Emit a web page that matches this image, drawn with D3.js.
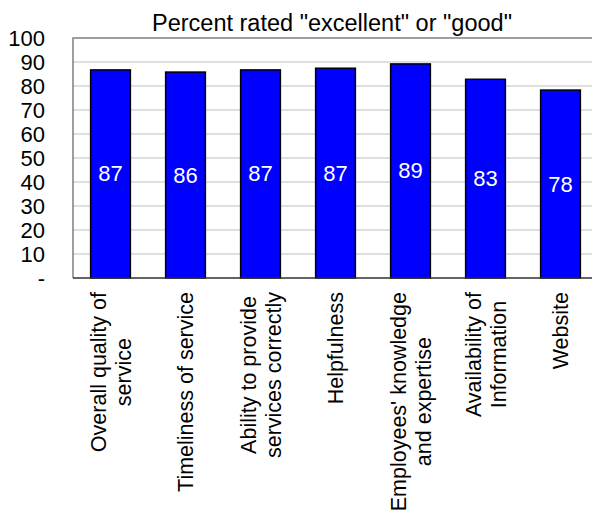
<!DOCTYPE html>
<html>
<head>
<meta charset="utf-8">
<script src="https://cdn.jsdelivr.net/npm/d3@7"></script>
<style>
    body { margin: 0; background: white; }
    text { font-family: "Liberation Sans", Arial, sans-serif; fill: black; }
</style>
</head>
<body>
<div id="chart"></div>
<script>
const categories = [
    ['Overall quality of', 'service'],
    ['Timeliness of service'],
    ['Ability to provide', 'services correctly'],
    ['Helpfulness'],
    ["Employees' knowledge", 'and expertise'],
    ['Availability of', 'Information'],
    ['Website']
];
const values = [86.7, 85.8, 86.7, 87.4, 89.2, 82.8, 78.3];
const tickValues = [0, 10, 20, 30, 40, 50, 60, 70, 80, 90, 100];
const title = 'Percent rated "excellent" or "good"';

const width = 592;
const height = 512;
const margin = { top: 38, left: 73, bottom: 278 };
const plotRight = 598;

const svg = d3.select('#chart')
    .append('svg')
    .attr('width', width)
    .attr('height', height);

const x = d3.scaleBand()
    .domain(d3.range(values.length))
    .range([margin.left, plotRight])
    .paddingInner(0.47)
    .paddingOuter(0.235);

const y = d3.scaleLinear()
    .domain([0, 100])
    .range([margin.bottom, margin.top]);

// gridlines
svg.selectAll('.grid')
    .data(tickValues.filter(d => d > 0 && d < 100))
    .join('line')
    .attr('x1', margin.left)
    .attr('x2', plotRight)
    .attr('y1', d => y(d))
    .attr('y2', d => y(d))
    .attr('stroke', '#c0c0c0')
    .attr('stroke-width', 1.2);

// frame
svg.append('path')
    .attr('d', `M${margin.left},${margin.bottom}V${margin.top}H${plotRight}`)
    .attr('fill', 'none')
    .attr('stroke', '#808080')
    .attr('stroke-width', 1.5);

// bars
svg.selectAll('.bar')
    .data(values)
    .join('rect')
    .attr('x', (d, i) => x(i))
    .attr('y', d => y(d))
    .attr('width', x.bandwidth())
    .attr('height', d => y(0) - y(d))
    .attr('fill', '#0000ff')
    .attr('stroke', 'black')
    .attr('stroke-width', 1.5);

// bottom axis line
svg.append('line')
    .attr('x1', margin.left)
    .attr('x2', plotRight)
    .attr('y1', margin.bottom)
    .attr('y2', margin.bottom)
    .attr('stroke', '#303030')
    .attr('stroke-width', 1.5);

// bar labels
svg.selectAll('.bar-label')
    .data(values)
    .join('text')
    .attr('x', (d, i) => x(i) + x.bandwidth() / 2)
    .attr('y', d => (y(d) + y(0)) / 2)
    .attr('text-anchor', 'middle')
    .attr('dominant-baseline', 'central')
    .style('font-size', '22px')
    .style('fill', 'white')
    .text(d => d3.format('.0f')(d));

// y tick labels
svg.selectAll('.y-label')
    .data(tickValues)
    .join('text')
    .attr('x', 45)
    .attr('y', d => y(d))
    .attr('text-anchor', 'end')
    .attr('dominant-baseline', 'central')
    .style('font-size', '22px')
    .text(d => d === 0 ? '-' : d);

// title
svg.append('text')
    .attr('x', 332)
    .attr('y', 31)
    .attr('text-anchor', 'middle')
    .style('font-size', '23.5px')
    .text(title);

// x labels, rotated, lines centred on each other
const labelTop = 292;
const lineHeight = 25;
const xLabels = svg.selectAll('.x-label')
    .data(categories)
    .join('g')
    .attr('transform', (d, i) => `translate(${x(i) + x.bandwidth() / 2}, ${labelTop}) rotate(-90)`);

xLabels.each(function (lines) {
    const g = d3.select(this);
    const texts = g.selectAll('text')
        .data(lines)
        .join('text')
        .attr('text-anchor', 'middle')
        .style('font-size', '21.5px')
        .text(d => d);
    let maxLen = 0;
    texts.each(function () { maxLen = Math.max(maxLen, this.getComputedTextLength()); });
    const n = lines.length;
    texts
        .attr('x', -maxLen / 2)
        .attr('y', (d, i) => 7.5 + (i - (n - 1) / 2) * lineHeight);
});
</script>
</body>
</html>
